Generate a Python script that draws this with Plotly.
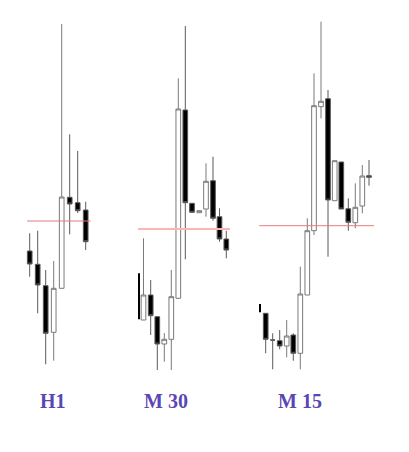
import plotly.graph_objects as go

# ---- data (price units) ----
h1_x = [29.7, 37.7, 45.7, 53.7, 61.7, 69.7, 77.7, 85.7]
h1_open = [201, 187.7, 166.3, 119.7, 163.7, 254.7, 249.3, 242]
h1_high = [218.7, 221.3, 182, 191, 428, 317.7, 301, 250.3]
h1_low = [175.3, 138.7, 87.7, 91.3, 163.7, 217.7, 239, 202]
h1_close = [188, 167, 118.7, 163.7, 255, 248, 241.3, 210.3]

m30_x = [143.5, 150.7, 157.3, 164.3, 171.3, 178.3, 185.3, 192.0, 199.3, 206.0, 213.0, 219.5, 226.3]
m30_open = [132, 157, 135.3, 108, 112.7, 153.7, 342, 248.7, 239.3, 243, 271.3, 235.3, 213]
m30_high = [213.7, 172, 135.3, 119, 182, 373.7, 426, 248.7, 241.3, 288.7, 295.3, 243.7, 221.3]
m30_low = [132, 117, 82, 90.3, 82, 153.7, 192.7, 239.7, 239.3, 235.3, 231.3, 210.3, 193.7]
m30_close = [157, 136.3, 108, 112.7, 155.3, 343, 249.3, 239.7, 241.3, 270.7, 233.7, 213, 202]

m15_x = [265.7, 272.7, 279.7, 286.7, 293.3, 300.3, 307.3, 314.0, 321.0, 328.0, 334.7, 341.3, 348.3, 355.3, 362.3, 369.0]
m15_open = [138.7, 112, 111.3, 106, 117, 98.7, 157, 221.3, 345.3, 353.3, 251.3, 290, 243.3, 229.3, 246, 276.3]
m15_high = [138.7, 118.7, 122, 132, 118.7, 185.3, 233.7, 378.7, 430.3, 362, 291.3, 290, 253.7, 268.7, 287, 292]
m15_low = [98.7, 82.7, 102.7, 94.7, 91.3, 82.7, 157, 217, 333.7, 195.3, 251.3, 243, 221.3, 223.7, 238.7, 266.3]
m15_close = [112.7, 112, 106, 116, 98.7, 158, 221.3, 346.3, 350.7, 252, 291.3, 243, 229.7, 244.7, 276, 274.7]

# partially hidden first candles (x, top, bottom)
partial_x = [139, 260]
partial_top = [178.7, 148]
partial_bottom = [132.7, 139.7]

# reference levels (x start, x end, price)
level_x0 = [27, 138, 259.3]
level_x1 = [90.7, 230, 374]
level_y = [231, 223, 226.3]
level_colors = ["#e87a7a", "#ffb4b4", "#e87a7a"]
level_widths = [1, 2, 1]

labels = ["H1", "M 30", "M 15"]
label_x = [53, 165.7, 300]
label_y = 51.3

fig = go.Figure()

for x0, x1, y, c, w in zip(level_x0, level_x1, level_y, level_colors, level_widths):
    fig.add_trace(go.Scatter(x=[x0, x1], y=[y, y], mode="lines",
                             line=dict(color=c, width=w), hoverinfo="skip"))

for xs, o, h, l, c in [(h1_x, h1_open, h1_high, h1_low, h1_close),
                       (m30_x, m30_open, m30_high, m30_low, m30_close),
                       (m15_x, m15_open, m15_high, m15_low, m15_close)]:
    fig.add_trace(go.Candlestick(
        x=xs, open=o, high=h, low=l, close=c,
        increasing=dict(fillcolor="white", line=dict(color="#7a7a7a", width=1)),
        decreasing=dict(fillcolor="black", line=dict(color="#5a5a5a", width=1)),
        whiskerwidth=0,
    ))

for x, t, b in zip(partial_x, partial_top, partial_bottom):
    fig.add_trace(go.Scatter(x=[x, x], y=[b, t], mode="lines",
                             line=dict(color="black", width=2), hoverinfo="skip"))

for txt, x in zip(labels, label_x):
    fig.add_annotation(x=x, y=label_y, text=f"<b>{txt}</b>", showarrow=False,
                       font=dict(family="Liberation Serif", size=20, color="#5a46b4"),
                       xanchor="center", yanchor="middle")

# page body has an 8px margin; shift the axis ranges so the picture lands in place
fig.update_layout(
    width=409, height=452,
    margin=dict(l=0, r=0, t=0, b=0),
    paper_bgcolor="white", plot_bgcolor="white",
    showlegend=False,
    boxgap=0.1, boxgroupgap=0.2,
    xaxis=dict(range=[8, 417], visible=False, rangeslider=dict(visible=False), fixedrange=True),
    yaxis=dict(range=[-8, 444], visible=False, fixedrange=True),
)

fig.write_html("out.html")
